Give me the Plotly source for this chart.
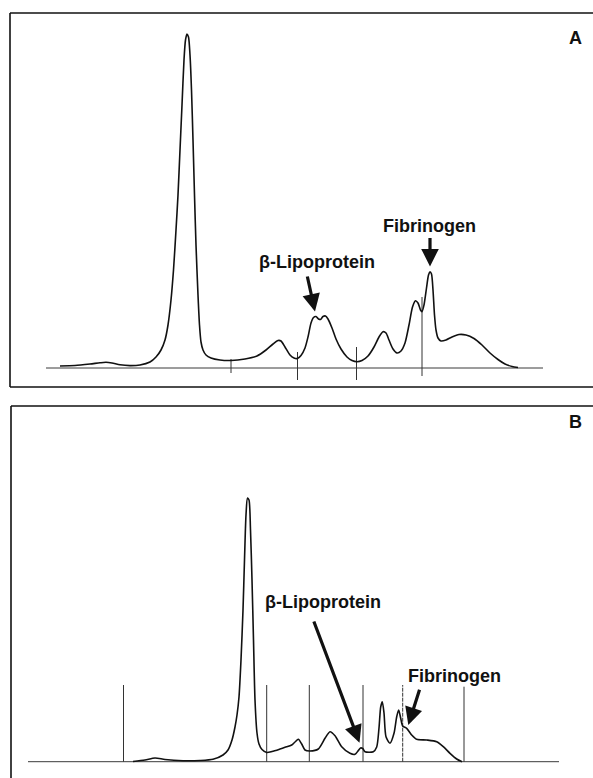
import plotly.graph_objects as go

# ---- Scan A: densitometric trace (position, signal above baseline) ----
a_pos = [60, 75, 90, 100, 106, 112, 120, 130, 140, 150, 156, 161, 165, 168, 171, 173.5,
         176, 178, 180, 182, 184, 185.5, 187, 188.5, 190, 191.5, 193, 194.5, 196, 198,
         199.5, 201, 203, 206, 211, 220, 231, 245, 257, 266, 273, 278, 281, 285, 290,
         294, 297.5, 301, 305, 308, 311, 313.5, 316, 318.5, 320.5, 323, 325.5, 328, 332,
         336, 341, 347, 352, 357, 362, 368, 374, 379, 383, 386, 389, 393, 397, 401, 405,
         409, 412.5, 415.5, 418, 420.5, 422, 424, 426.5, 428.5, 430, 431.5, 433, 434.5,
         436, 438, 441, 446, 452, 459, 466, 474, 482, 490, 498, 505, 512, 518]
a_signal = [2, 2.5, 4, 5.2, 5.7, 5, 3.2, 2.4, 3, 6, 11, 18, 28, 43, 68, 98,
            138, 173, 218, 263, 308, 328, 334, 331, 313, 278, 228, 173, 123, 73,
            43, 26, 18, 13, 10, 8, 7.5, 9, 12, 18, 24, 27.5, 27, 21, 13,
            10, 9.5, 12.5, 20, 31, 45, 50.5, 51.5, 49, 48.5, 51.5, 52, 49, 40,
            29, 19, 11, 7.5, 6.3, 7.5, 12, 21, 31, 36.3, 35, 28, 19, 15, 17, 25,
            43, 61, 67.3, 65, 58, 56.3, 63, 80, 93, 96.3, 94, 78, 53,
            38, 30, 27, 28, 31, 33.5, 33, 29.5, 23, 15, 8.5, 4, 1.5, 0.5]

# fraction boundaries of scan A
a_cut_pos = [231, 297.5, 356.5, 422]
a_cut_top = [9, 16, 21, 71]
a_cut_bottom = [-5, -12, -12, -8]
a_base = [46, 543]

# ---- Scan B ----
b_pos = [133, 145, 155, 165, 183, 200, 213, 223, 228, 232, 235, 237, 239, 241, 243,
         244.5, 246, 247.5, 249, 250.5, 252, 253.5, 255, 257, 259, 262, 266.7, 272,
         280, 285, 291.7, 295, 298.3, 301.7, 305, 310, 318.3, 325, 330, 335, 341.7,
         350, 355, 358, 360.5, 362.7, 365, 373.3, 376.7, 379, 380.7, 382.3, 384, 386,
         390, 394, 396.7, 398.7, 400.7, 402.7, 406.7, 411.7, 416.7, 426.7, 436.7,
         443.3, 450, 456.7, 462]
b_signal = [0.2, 1.7, 3.7, 2.2, 1, 1.2, 2.4, 6.7, 11.7, 21.7, 34.7, 46.7, 64.7, 101.7, 151.7,
            201.7, 246.7, 263.7, 261.7, 231.7, 181.7, 121.7, 61.7, 28.7, 17.7, 12.2, 9.2, 10.2,
            12.7, 14.4, 16.7, 19.7, 22.4, 17.7, 11.7, 10.7, 12.7, 23.4, 30, 26, 15,
            8.4, 7.4, 10.7, 13.7, 13.2, 10, 10, 14.7, 33.7, 54.7, 60, 48.7, 25,
            18.4, 28.4, 45, 51.7, 43.4, 35.7, 33.4, 26.7, 22.4, 21.7, 20,
            15, 8.4, 2.7, 0]

b_cut_pos = [123.5, 266.7, 309.3, 363, 402.7, 464]
b_cut_top = [76.7, 76.7, 76.7, 76.7, 76.7, 75]
b_cut_dash = ["solid", "solid", "solid", "solid", "4px,1px", "solid"]
b_base = [28, 559]

# labelled bands: (text, label x, label y, arrow tail x, tail y, tip x, tip y)
a_labels = [
    ("β-Lipoprotein", 316.7, 106.3, 307, 93, 315, 56.5),
    ("Fibrinogen", 429.5, 142.5, 430, 131.5, 430, 101.5),
]
b_labels = [
    ("β-Lipoprotein", 323, 160, 313.3, 141.7, 359.5, 19),
    ("Fibrinogen", 454, 85.7, 420, 73.4, 408.3, 36.7),
]

W, H = 593, 778
INK = "#111111"
FONT = "Liberation Sans, Arial, sans-serif"

fig = go.Figure()


def add_scan(xa, ya, pos, sig, base, cuts):
    fig.add_trace(go.Scatter(x=base, y=[0, 0], mode="lines",
                             line=dict(color="#3a3a3a", width=1),
                             xaxis=xa, yaxis=ya, hoverinfo="skip"))
    for cx, top, bot, dash in cuts:
        fig.add_trace(go.Scatter(x=[cx, cx], y=[bot, top], mode="lines",
                                 line=dict(color="#333333", width=1, dash=dash),
                                 xaxis=xa, yaxis=ya, hoverinfo="skip"))
    fig.add_trace(go.Scatter(x=pos, y=sig, mode="lines",
                             line=dict(color=INK, width=1.6, shape="spline", smoothing=0.7),
                             xaxis=xa, yaxis=ya, hoverinfo="skip"))


add_scan("x", "y", a_pos, a_signal, a_base,
         [(c, t, b, "solid") for c, t, b in zip(a_cut_pos, a_cut_top, a_cut_bottom)])
add_scan("x2", "y2", b_pos, b_signal, b_base,
         [(c, t, 0, d) for c, t, d in zip(b_cut_pos, b_cut_top, b_cut_dash)])

annotations = []
for labels, xr, yr in ((a_labels, "x", "y"), (b_labels, "x2", "y2")):
    for text, lx, ly, tx, ty, hx, hy in labels:
        annotations.append(dict(x=lx, y=ly, xref=xr, yref=yr, text="<b>%s</b>" % text,
                                showarrow=False,
                                font=dict(family=FONT, size=18, color=INK)))
        annotations.append(dict(x=hx, y=hy, xref=xr, yref=yr, ax=tx, ay=ty,
                                axref=xr, ayref=yr, text="", showarrow=True,
                                arrowhead=2, arrowsize=1.1, arrowwidth=3.2,
                                arrowcolor=INK, standoff=0, startstandoff=0))

for letter, ypx in (("A", 26), ("B", 422)):
    annotations.append(dict(x=583.5 / W, y=1 - ypx / H, xref="paper", yref="paper",
                            text="<b>%s</b>" % letter, showarrow=False,
                            font=dict(family=FONT, size=18, color=INK)))

# panel frames (open on the right / bottom edge)
shapes = []
def frame_line(x0, y0, x1, y1):
    shapes.append(dict(type="line", xref="paper", yref="paper",
                       x0=x0 / W, y0=1 - y0 / H, x1=x1 / W, y1=1 - y1 / H,
                       line=dict(color=INK, width=1.6)))

frame_line(10, 13, 10, 387)
frame_line(10, 13, 593, 13)
frame_line(10, 387, 593, 387)
frame_line(11, 406, 11, 778)
frame_line(11, 406, 593, 406)

hidden = dict(visible=False, showgrid=False, zeroline=False, fixedrange=True)
fig.update_layout(
    width=W, height=H,
    margin=dict(l=0, r=0, t=0, b=0),
    paper_bgcolor="white", plot_bgcolor="white",
    showlegend=False,
    xaxis=dict(hidden, domain=[10 / W, 1], range=[10, 593]),
    yaxis=dict(hidden, domain=[1 - 387 / H, 1 - 13 / H], range=[-19, 355]),
    xaxis2=dict(hidden, domain=[11 / W, 1], range=[11, 593], anchor="y2"),
    yaxis2=dict(hidden, domain=[0, 1 - 406 / H], range=[-16.3, 355.7], anchor="x2"),
    annotations=annotations,
    shapes=shapes,
)

fig.write_html("out.html")
